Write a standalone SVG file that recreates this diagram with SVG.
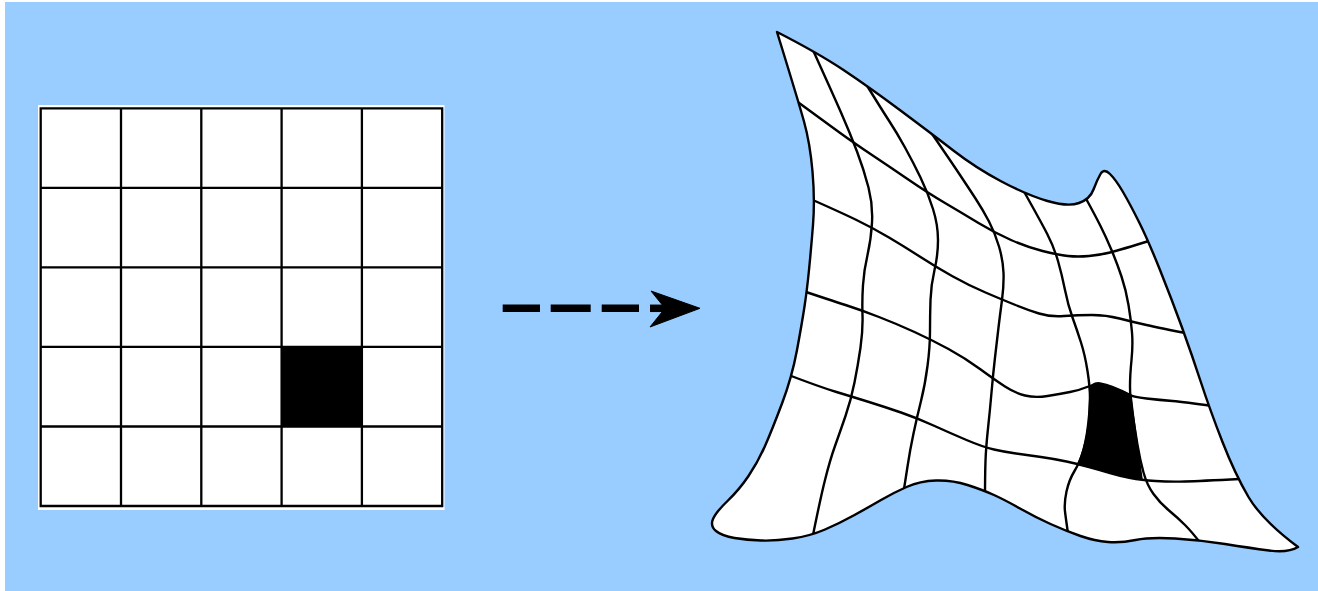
<svg xmlns="http://www.w3.org/2000/svg" width="1318" height="591" viewBox="0 0 1318 591">
<style>
.gl{stroke:#000;stroke-width:2.3;fill:none}
.wl{stroke:#000;stroke-width:2.4;fill:none;stroke-linecap:round;stroke-linejoin:round}
.dash{stroke:#000;stroke-width:7.5;fill:none}
</style>
<defs>
<clipPath id="warpClip">
<path id="outlineShape" d="M777,32 Q818,53 843.5,70 Q869,87 900.5,110.5 Q932,134 954,151 Q976,168 1001.5,181.5 Q1027,195 1047.5,201 Q1068,207 1079,203 Q1090,199 1093.5,189.5 Q1097,180 1100.5,174 Q1104,168 1110,174 Q1116,180 1123,192 Q1130,204 1139,222 Q1148,240 1160,270 Q1172,300 1182,327.5 Q1192,355 1201,382.5 Q1210,410 1222.5,442 Q1235,474 1248.5,497 Q1262,520 1298,547 Q1288,553 1269,550.5 Q1250,548 1225,544 Q1200,540 1175,538.5 Q1150,537 1135.5,540 Q1121,543 1108,542 Q1095,541 1080.5,536 Q1066,531 1050.5,524 Q1035,517 1020,508.5 Q1005,500 994,495 Q983,490 967.5,485 Q952,480 936,480.5 Q920,481 906.5,487 Q893,493 881,500 Q869,507 854.5,515 Q840,523 825,529.5 Q810,536 792.5,538.5 Q775,541 761,540.5 Q747,540 734.5,538 Q722,536 716,531 Q710,526 713,519 Q716,512 727.5,501 Q739,490 748.5,476 Q758,462 765,446 Q772,430 782,403.5 Q792,377 797,350 Q802,323 804.5,306.5 Q807,290 809,270 Q811,250 813,225 Q815,200 812.5,171.5 Q810,143 804,121.5 Q798,100 777,32 Z"/>
</clipPath>
</defs>
<rect x="0" y="0" width="1318" height="591" fill="#ffffff"/>
<rect x="5" y="2" width="1313" height="589" fill="#99ccff"/>

<g id="grid-original">
<rect x="38" y="105" width="406.5" height="405" fill="#ffffff"/>
<rect x="281.6" y="346.9" width="80.3" height="79.6" fill="#000"/>
<path class="gl" d="M40.7,108.3 H442.2 V506 H40.7 Z M121,108.3 V506 M201.3,108.3 V506 M281.6,108.3 V506 M361.9,108.3 V506 M40.7,187.8 H442.2 M40.7,267.4 H442.2 M40.7,346.9 H442.2 M40.7,426.5 H442.2"/>
</g>

<g id="connectors">
<line class="dash" x1="502.7" y1="308.3" x2="540" y2="308.3"/>
<line class="dash" x1="550.7" y1="308.3" x2="590.7" y2="308.3"/>
<line class="dash" x1="601.7" y1="308.3" x2="639" y2="308.3"/>
<line class="dash" x1="650" y1="308.3" x2="668" y2="308.3"/>
<path d="M700,308.3 L651,291 L665,308.3 L650,327 Z" fill="#000" stroke="#000" stroke-width="1" stroke-linejoin="miter"/>
</g>

<g id="grid-warped">
<use href="#outlineShape" fill="#ffffff"/>
<g clip-path="url(#warpClip)">
<path d="M1090,389 Q1092,382 1100,383 Q1112,385 1131,395 Q1135,430 1142,479 Q1115,474 1078,464 Q1089,440 1090,389 Z" fill="#000" stroke="#000" stroke-width="1.5"/>
<path class="wl" d="M812,48 Q832,92 841,112.5 Q850,133 857,151.5 Q864,170 868.5,187.5 Q873,205 872,222.5 Q871,240 867.5,255 Q864,270 863,285 Q862,300 862.5,315 Q863,330 860.5,347.5 Q858,365 854.5,382.5 Q851,400 845.5,416 Q840,432 835,446 Q830,460 825,480 Q820,500 812,540"/>
<path class="wl" d="M866,84 Q882,110 889.5,121.5 Q897,133 905,147.5 Q913,162 920.5,177.5 Q928,193 933,209 Q938,225 938,240 Q938,255 934.5,270 Q931,285 930.5,300 Q930,315 930,331 Q930,347 927.5,366 Q925,385 921,401 Q917,417 913.5,433.5 Q910,450 907.5,466.5 Q905,483 903,495"/>
<path class="wl" d="M928,128 Q950,160 959,173.5 Q968,187 975.5,198.5 Q983,210 989,221.5 Q995,233 999,246.5 Q1003,260 1003.5,272.5 Q1004,285 1002,300 Q1000,315 998.5,327.5 Q997,340 995,357.5 Q993,375 991.5,392.5 Q990,410 988,428.5 Q986,447 985.5,461 Q985,475 985,500"/>
<path class="wl" d="M1022,188 Q1040,220 1047,233.5 Q1054,247 1058,261 Q1062,275 1065,290 Q1068,305 1072.5,317.5 Q1077,330 1081,342.5 Q1085,355 1087.5,371 Q1090,387 1090,398.5 Q1090,410 1089,422.5 Q1088,435 1084,448.5 Q1080,462 1074.5,471 Q1069,480 1066.5,491.5 Q1064,503 1065,511.5 Q1066,520 1069,540"/>
<path class="wl" d="M1084,195 Q1095,215 1100.5,226 Q1106,237 1111.5,250 Q1117,263 1121.5,276.5 Q1126,290 1128.5,305 Q1131,320 1132,332.5 Q1133,345 1131.5,360 Q1130,375 1130,386.5 Q1130,398 1132.5,414 Q1135,430 1137.5,445 Q1140,460 1143.5,472.5 Q1147,485 1153.5,494 Q1160,503 1169,510.5 Q1178,518 1185,525 Q1192,532 1202,545"/>
<path class="wl" d="M795,100 Q825,122 839.5,132.5 Q854,143 872,155 Q890,167 909,180 Q928,193 945,203 Q962,213 978.5,223 Q995,233 1011,240 Q1027,247 1042.5,251 Q1058,255 1068,256 Q1078,257 1089,256 Q1100,255 1110,252.5 Q1120,250 1152,240"/>
<path class="wl" d="M806,197 Q840,212 856.5,220 Q873,228 889,237.5 Q905,247 920.5,257 Q936,267 952,276 Q968,285 985.5,292.5 Q1003,300 1015.5,305 Q1028,310 1039,313.5 Q1050,317 1064,316 Q1078,315 1092,315 Q1106,315 1119.5,318.5 Q1133,322 1146.5,325 Q1160,328 1190,334"/>
<path class="wl" d="M800,290 Q830,300 845.5,305 Q861,310 879,317 Q897,324 914.5,332 Q932,340 948.5,349 Q965,358 980,369 Q995,380 1005,386.5 Q1015,393 1025,395.5 Q1035,398 1047.5,396 Q1060,394 1070,392 Q1080,390 1087,387 Q1094,384 1100,384.5 Q1106,385 1113,388 Q1120,391 1126.5,394 Q1133,397 1146.5,398.5 Q1160,400 1172.5,401 Q1185,402 1212,406"/>
<path class="wl" d="M786,374 Q820,387 836.5,392 Q853,397 869,402 Q885,407 901,412.5 Q917,418 933.5,425.5 Q950,433 966.5,440 Q983,447 994,449.5 Q1005,452 1016,453.5 Q1027,455 1041,457 Q1055,459 1066.5,461.5 Q1078,464 1089,467 Q1100,470 1110,473 Q1120,476 1130.5,478 Q1141,480 1155.5,481 Q1170,482 1185,481.5 Q1200,481 1240,479"/>
</g>
<use href="#outlineShape" class="wl"/>
</g>
</svg>
